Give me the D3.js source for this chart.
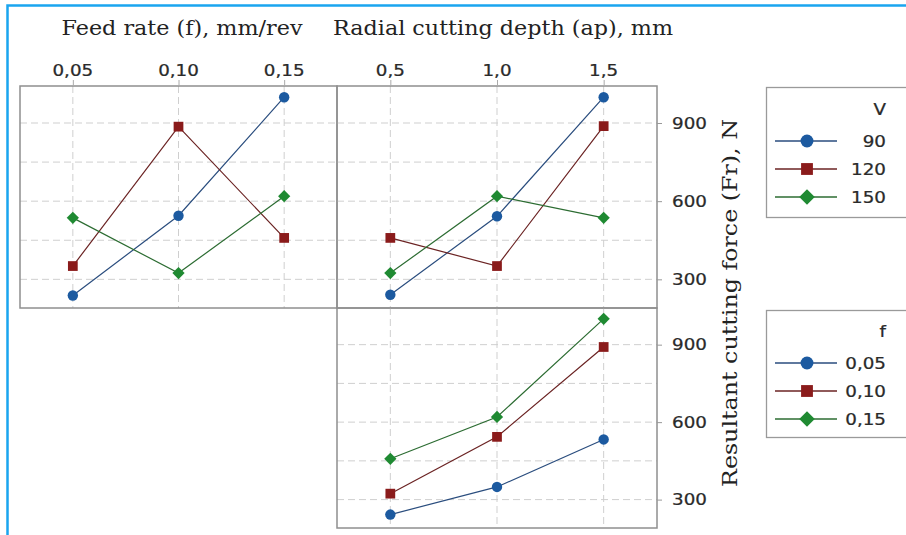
<!DOCTYPE html>
<html><head><meta charset="utf-8">
<script src="https://cdn.jsdelivr.net/npm/d3@7"></script>
<style>
html,body{margin:0;padding:0;background:#fff;}
svg{display:block;}
</style></head>
<body>
<script>
// ---- data ----
const feedLevels = [0.05, 0.10, 0.15];
const feedLabels = ["0,05", "0,10", "0,15"];
const depthLevels = [0.5, 1.0, 1.5];
const depthLabels = ["0,5", "1,0", "1,5"];
const speedNames = ["90", "120", "150"];
const feedNames = ["0,05", "0,10", "0,15"];
// Fr vs feed rate, grouped by V
const frFeedV90 = [238, 544, 999];
const frFeedV120 = [351, 886, 459];
const frFeedV150 = [536, 324, 619];
// Fr vs radial depth, grouped by V
const frDepthV90 = [241, 542, 999];
const frDepthV120 = [459, 351, 888];
const frDepthV150 = [324, 619, 536];
// Fr vs radial depth, grouped by f
const frDepthF005 = [242, 349, 533];
const frDepthF010 = [323, 543, 891];
const frDepthF015 = [458, 620, 1000];
const yTickValues = [300, 600, 900];
const yGridValues = [300, 450, 600, 750, 900];
const titleFeed = "Feed rate (f), mm/rev";
const titleDepth = "Radial cutting depth (ap), mm";
const titleY = "Resultant cutting force (Fr), N";
const legendTitleV = "V";
const legendTitleF = "f";

// ---- styles ----
const W = 906, H = 535;
const markerFill = ["#1c5aa0", "#8a1b1b", "#1f8a32"];
const lineColor = ["#2a4d7e", "#6b2323", "#2c6c32"];
const markerType = [d3.symbolCircle, d3.symbolSquare, d3.symbolSquare];
const markerSize = [85, 95, 75];
const markerRot = [0, 0, 45];
const frameColor = "#8f8f8f";
const gridColor = "#cfcfcf";
const SANS = "'DejaVu Sans', sans-serif";
const SERIF = "'DejaVu Serif', serif";
const STRETCH = 1.22;

const svg = d3.select("body").append("svg").attr("width", W).attr("height", H);
svg.append("rect").attr("width", W).attr("height", H).attr("fill", "#fff");

// outer blue frame
svg.append("rect").attr("x", 7.5).attr("y", 5.5).attr("width", W + 20).attr("height", H + 20)
  .attr("fill", "none").attr("stroke", "#1aa5ef").attr("stroke-width", 2.5);

const yDomain = [190, 1042];

const panels = [
  { x0: 20, x1: 337, y0: 86, y1: 308, xDomain: [0.025, 0.175], levels: feedLevels, labels: feedLabels,
    series: [frFeedV90, frFeedV120, frFeedV150], top: true, right: false },
  { x0: 337, x1: 657, y0: 86, y1: 308, xDomain: [0.25, 1.75], levels: depthLevels, labels: depthLabels,
    series: [frDepthV90, frDepthV120, frDepthV150], top: true, right: true },
  { x0: 337, x1: 657, y0: 308, y1: 528, xDomain: [0.25, 1.75], levels: depthLevels, labels: depthLabels,
    series: [frDepthF005, frDepthF010, frDepthF015], top: false, right: true }
];

function stretchedText(g, x, y, txt, opts) {
  const gg = g.append("g").attr("transform", `translate(${x},${y}) scale(${opts.sx || STRETCH},1)`);
  return gg.append("text").attr("x", 0).attr("y", 0)
    .attr("text-anchor", opts.anchor || "middle")
    .attr("font-family", opts.family || SANS)
    .attr("font-size", opts.size || 15)
    .attr("fill", opts.fill || "#2a2a2a")
    .attr("stroke", opts.fill || "#2a2a2a").attr("stroke-width", 0.25)
    .text(txt);
}

panels.forEach(p => {
  const x = d3.scaleLinear().domain(p.xDomain).range([p.x0, p.x1]);
  const y = d3.scaleLinear().domain(yDomain).range([p.y1, p.y0]);
  const g = svg.append("g");
  // grid
  g.selectAll(".hg").data(yGridValues).join("line")
    .attr("x1", p.x0).attr("x2", p.x1).attr("y1", d => y(d)).attr("y2", d => y(d))
    .attr("stroke", gridColor).attr("stroke-width", 1).attr("stroke-dasharray", "7,4");
  g.selectAll(".vg").data(p.levels).join("line")
    .attr("x1", d => x(d)).attr("x2", d => x(d)).attr("y1", p.y0).attr("y2", p.y1)
    .attr("stroke", gridColor).attr("stroke-width", 1).attr("stroke-dasharray", "7,4");
  // lines and markers
  p.series.forEach((vals, i) => {
    const pts = vals.map((v, j) => [x(p.levels[j]), y(v)]);
    g.append("path").attr("d", d3.line()(pts)).attr("fill", "none")
      .attr("stroke", lineColor[i]).attr("stroke-width", 1.2);
    g.selectAll(null).data(pts).join("path")
      .attr("d", d3.symbol().type(markerType[i]).size(markerSize[i]))
      .attr("transform", d => `translate(${d[0]},${d[1]}) rotate(${markerRot[i]})`)
      .attr("fill", markerFill[i]);
  });
  // frame
  g.append("rect").attr("x", p.x0).attr("y", p.y0).attr("width", p.x1 - p.x0).attr("height", p.y1 - p.y0)
    .attr("fill", "none").attr("stroke", frameColor).attr("stroke-width", 1.5);
  // top axis
  if (p.top) {
    const ax = g.append("g").attr("transform", `translate(0,${p.y0})`)
      .call(d3.axisTop(x).tickValues(p.levels).tickFormat("").tickSize(6));
    ax.select(".domain").remove();
    ax.selectAll("line").attr("stroke", "#aaa");
    p.levels.forEach((lv, j) => {
      stretchedText(g, x(lv), 76, p.labels[j], { size: 15 });
    });
  }
  if (p.right) {
    const ay = g.append("g").attr("transform", `translate(${p.x1},0)`)
      .call(d3.axisRight(y).tickValues(yTickValues).tickFormat("").tickSize(5));
    ay.select(".domain").remove();
    ay.selectAll("line").attr("stroke", "#999");
    yTickValues.forEach(v => {
      stretchedText(g, p.x1 + 15, y(v) + 5.5, String(v), { size: 15, anchor: "start" });
    });
  }
});

// titles
function serifTitle(transform, txt, len) {
  svg.append("text").attr("transform", transform).attr("text-anchor", "middle")
    .attr("font-family", SERIF).attr("font-size", 20).attr("fill", "#222")
    .attr("textLength", len).attr("lengthAdjust", "spacingAndGlyphs").text(txt);
}
serifTitle("translate(182,35)", titleFeed, 241);
serifTitle("translate(503,35)", titleDepth, 340);
serifTitle("translate(737,303) rotate(-90)", titleY, 368);

// legends
function legend(top, bottom, title, titleY0, names) {
  const g = svg.append("g");
  g.append("rect").attr("x", 766.5).attr("y", top + 0.5).attr("width", 200).attr("height", bottom - top)
    .attr("fill", "#fff").attr("stroke", "#9a9a9a").attr("stroke-width", 1.3);
  stretchedText(g, 886, titleY0, title, { size: 15, anchor: "end" });
  names.forEach((nm, i) => {
    const cy = titleY0 + 26 + i * 28;
    g.append("line").attr("x1", 775).attr("x2", 837).attr("y1", cy).attr("y2", cy)
      .attr("stroke", lineColor[i]).attr("stroke-width", 1.4);
    g.append("path").attr("d", d3.symbol().type(markerType[i]).size(markerSize[i] + 45)())
      .attr("transform", `translate(807,${cy}) rotate(${markerRot[i]})`).attr("fill", markerFill[i]);
    stretchedText(g, 886, cy + 6, nm, { size: 15, anchor: "end" });
  });
}
legend(87, 217, legendTitleV, 115, speedNames);
legend(310, 437, legendTitleF, 337, feedNames);
</script>
</body></html>
